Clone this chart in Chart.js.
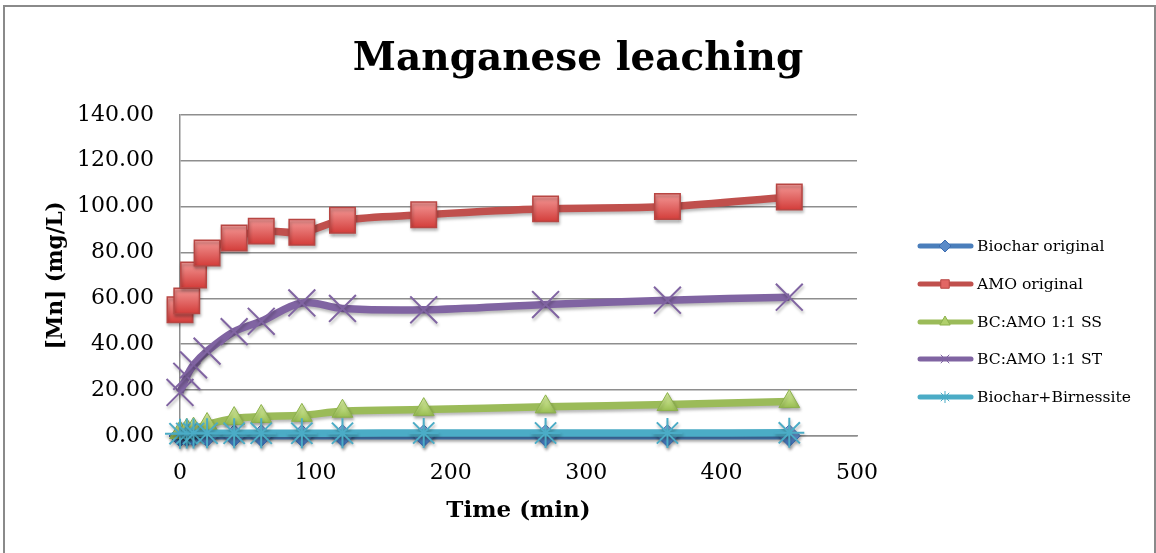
<!DOCTYPE html>
<html>
<head>
<meta charset="utf-8">
<script src="https://cdn.jsdelivr.net/npm/chart.js@4/dist/chart.umd.min.js"></script>
<style>
  html, body { margin: 0; padding: 0; background: #fff; }
  canvas { display: block; }
</style>
</head>
<body>
<canvas id="c" width="1156" height="553"></canvas>
<script>
// ---- data ----
const chartTitle = 'Manganese leaching';
const xAxisTitle = 'Time (min)';
const yAxisTitle = '[Mn] (mg/L)';
const times = [0, 5, 10, 20, 40, 60, 90, 120, 180, 270, 360, 450];
const seriesNames = ['Biochar original', 'AMO original', 'BC:AMO 1:1 SS', 'BC:AMO 1:1 ST', 'Biochar+Birnessite'];
const biocharOriginal   = [0.0, 0.1, 0.1, 0.1, 0.1, 0.1, 0.1, 0.1, 0.1, 0.1, 0.1, 0.1];
const amoOriginal       = [55.0, 58.9, 70.2, 79.8, 86.3, 89.3, 88.8, 94.0, 96.4, 99.0, 100.0, 104.2];
const bcAmoSS           = [1.5, 2.5, 3.0, 5.0, 7.6, 8.5, 9.0, 10.8, 11.5, 12.7, 13.7, 15.0];
const bcAmoST           = [19.0, 26.0, 31.0, 37.0, 45.5, 50.0, 58.0, 55.6, 55.0, 57.3, 59.2, 60.5];
const biocharBirnessite = [1.0, 1.1, 1.1, 1.2, 1.2, 1.2, 1.2, 1.2, 1.3, 1.3, 1.3, 1.4];
const xTicks = [0, 100, 200, 300, 400, 500];
const yTicks = [0, 20, 40, 60, 80, 100, 120, 140];

const FONT = 'DejaVu Serif';
const toPoints = arr => arr.map((v, i) => ({ x: times[i], y: v }));

function markerGradient(top, bottom) {
  return (c) => {
    if (c.type !== 'data' || !c.chart.scales || !c.chart.scales.y || !c.parsed) return bottom;
    const y = c.chart.scales.y.getPixelForValue(c.parsed.y);
    const r = c.dataset.pointRadius || 10;
    if (!isFinite(y)) return bottom;
    const g = c.chart.ctx.createLinearGradient(0, y - r * 0.75, 0, y + r * 0.75);
    g.addColorStop(0, top);
    g.addColorStop(1, bottom);
    return g;
  };
}

const styles = [
  { color: '#4A7EBB', point: 'rectRot', r: 11, fill: markerGradient('#8AB0E0', '#3E72B8'), flat: '#5B8BC8', border: '#3D6DB0', bw: 1, order: 5 },
  { color: '#C0504D', point: 'rect', r: 18, fill: markerGradient('#F49A98', '#D23B38'), flat: '#E26664', border: '#B84643', bw: 1.5, order: 4 },
  { color: '#9BBB59', point: 'triangle', r: 12, fill: markerGradient('#D4EC9A', '#8DB444'), flat: '#B0D06C', border: '#8CB14C', bw: 1, order: 3 },
  { color: '#8064A2', point: 'crossRot', r: 19, fill: '#8064A2', flat: '#8064A2', border: '#8064A2', bw: 2, order: 2 },
  { color: '#4BACC6', point: 'star', r: 15, fill: '#4BACC6', flat: '#4BACC6', border: '#4BACC6', bw: 2, order: 1 }
];
const seriesValues = [biocharOriginal, amoOriginal, bcAmoSS, bcAmoST, biocharBirnessite];

const datasets = seriesValues.map((vals, i) => {
  const s = styles[i];
  return {
    label: seriesNames[i],
    data: toPoints(vals),
    borderColor: s.color,
    backgroundColor: s.color,
    borderWidth: 7.5,
    tension: 0.35,
    pointStyle: s.point,
    pointRadius: s.r,
    pointHoverRadius: s.r,
    pointBackgroundColor: s.fill,
    pointBorderColor: s.border,
    pointBorderWidth: s.bw,
    clip: false,
    order: s.order
  };
});

const frame = {
  id: 'frame',
  beforeDraw(chart) {
    const ctx = chart.ctx;
    ctx.save();
    ctx.fillStyle = '#fff';
    ctx.fillRect(0, 0, chart.width, chart.height);
    ctx.strokeStyle = '#8a8a8a';
    ctx.lineWidth = 2;
    ctx.strokeRect(4, 6, 1151, 560);
    ctx.restore();
  }
};

const shadow = {
  id: 'shadow',
  beforeDatasetDraw(chart, args) {
    const ctx = chart.ctx;
    ctx.save();
    ctx.shadowColor = 'rgba(0,0,0,0.28)';
    ctx.shadowBlur = 3;
    ctx.shadowOffsetX = 1;
    ctx.shadowOffsetY = 2.5;
  },
  afterDatasetDraw(chart) {
    chart.ctx.restore();
  }
};

const customLegend = {
  id: 'customLegend',
  afterDraw(chart) {
    const ctx = chart.ctx;
    const rows = [246, 284, 322, 359, 397];
    ctx.save();
    chart.data.datasets.forEach((ds, i) => {
      const y = rows[i];
      const s = styles[i];
      ctx.strokeStyle = s.color;
      ctx.lineWidth = 5;
      ctx.lineCap = 'round';
      ctx.beginPath();
      ctx.moveTo(920, y);
      ctx.lineTo(971, y);
      ctx.stroke();
      ctx.lineCap = 'butt';
      ctx.fillStyle = s.flat;
      ctx.strokeStyle = s.border;
      ctx.lineWidth = 1;
      Chart.helpers.drawPoint(ctx, { pointStyle: s.point, radius: 6, borderWidth: 1, rotation: 0 }, 945, y);
      ctx.fillStyle = '#000';
      ctx.font = '15.6px "' + FONT + '"';
      ctx.textBaseline = 'middle';
      ctx.textAlign = 'left';
      ctx.fillText(ds.label, 977, y + 1);
    });
    ctx.restore();
  }
};

const tickFont = { family: FONT, size: 22 };
const gridColor = '#8e8e8e';

new Chart(document.getElementById('c'), {
  type: 'line',
  data: { datasets },
  plugins: [frame, shadow, customLegend],
  options: {
    responsive: false,
    animation: false,
    events: [],
    layout: { padding: { left: 0, right: 0, top: 0, bottom: 0 } },
    plugins: {
      legend: { display: false },
      tooltip: { enabled: false },
      title: {
        display: true,
        text: chartTitle,
        color: '#000',
        font: { family: FONT, size: 39, weight: 'bold', lineHeight: 1.2 },
        padding: { top: 36, bottom: 32 }
      }
    },
    scales: {
      x: {
        type: 'linear',
        min: 0, max: 500,
        afterBuildTicks: s => { s.ticks = xTicks.map(v => ({ value: v })); },
        ticks: { font: tickFont, color: '#000', padding: 24, maxRotation: 0, autoSkip: false },
        grid: { display: false, drawTicks: false },
        border: { display: true, color: gridColor, width: 1.5 },
        title: { display: true, text: xAxisTitle, color: '#000',
                 font: { family: FONT, size: 23, weight: 'bold', lineHeight: 1.2 },
                 padding: { top: 0, bottom: 28 } },
        afterFit: s => { s.height = 117; }
      },
      y: {
        type: 'linear',
        min: 0, max: 140,
        afterBuildTicks: s => { s.ticks = yTicks.map(v => ({ value: v })); },
        ticks: { font: tickFont, color: '#000', padding: 26, callback: v => Number(v).toFixed(2) },
        grid: { color: gridColor, lineWidth: 1.5, drawTicks: false },
        border: { display: true, color: gridColor, width: 1.5 },
        title: { display: true, text: yAxisTitle, color: '#000',
                 font: { family: FONT, size: 21.5, weight: 'bold', lineHeight: 1.2 },
                 padding: { top: 44, bottom: 0 } },
        afterFit: s => { s.width = 180; }
      },
      legendSpace: {
        type: 'linear',
        position: 'right',
        display: true,
        ticks: { display: false },
        grid: { display: false, drawTicks: false },
        border: { display: false },
        afterFit: s => { s.width = 299; }
      }
    }
  }
});
</script>
</body>
</html>
